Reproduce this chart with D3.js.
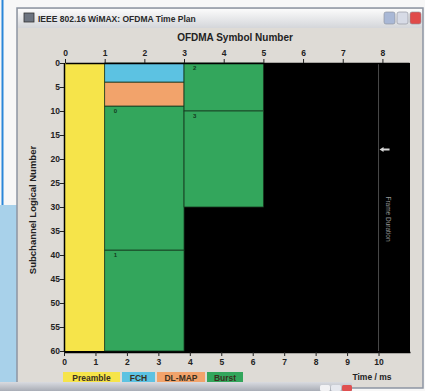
<!DOCTYPE html>
<html>
<head>
<meta charset="utf-8">
<script src="https://d3js.org/d3.v7.min.js"></script>
<style>
  body { margin: 0; background: #fafafa; }
  svg text { font-family: "Liberation Sans", Arial, sans-serif; }
</style>
</head>
<body>
<script>
"use strict";

// OFDMA time plan data (symbols on top axis, subchannels on y axis)
var blockNames = ["Preamble", "FCH", "DL-MAP", "0", "1", "2", "3"];
var blockTypes = ["Preamble", "FCH", "DL-MAP", "Burst", "Burst", "Burst", "Burst"];
var symStart = [0, 1, 1, 1, 1, 3, 3];
var symEnd   = [1, 3, 3, 3, 3, 5, 5];
var subStart = [0, 0, 4, 9, 39, 0, 10];
var subEnd   = [60, 4, 9, 39, 60, 10, 30];

var legendNames = ["Preamble", "FCH", "DL-MAP", "Burst"];
var legendColors = ["#f6e44a", "#5cc2e2", "#f2a36b", "#33a65c"];

var symbolTicks = [0, 1, 2, 3, 4, 5, 6, 7, 8];
var timeTicks = [0, 1, 2, 3, 4, 5, 6, 7, 8, 9, 10];
var subTicks = [0, 5, 10, 15, 20, 25, 30, 35, 40, 45, 50, 55, 60];
var frameDuration = 10; // ms

var W = 425, H = 391;
var svg = d3.select("body").append("svg").attr("width", W).attr("height", H);

// desktop behind the window
svg.append("rect").attr("x", 0).attr("y", 0).attr("width", W).attr("height", H).attr("fill", "#f7f7f7");
svg.append("rect").attr("x", 0).attr("y", 205).attr("width", 20).attr("height", 180).attr("fill", "#a8d1ea");
svg.append("line").attr("x1", 2.5).attr("x2", 2.5).attr("y1", 0).attr("y2", 205)
    .attr("stroke", "#2a86d8").attr("stroke-width", 2);

// window frame
var defs = svg.append("defs");
var tg = defs.append("linearGradient").attr("id", "tbar").attr("x1", 0).attr("x2", 0).attr("y1", 0).attr("y2", 1);
tg.append("stop").attr("offset", "0").attr("stop-color", "#fbfbfb");
tg.append("stop").attr("offset", "1").attr("stop-color", "#d4d6da");
var bg = defs.append("linearGradient").attr("id", "bbar").attr("x1", 0).attr("x2", 0).attr("y1", 0).attr("y2", 1);
bg.append("stop").attr("offset", "0").attr("stop-color", "#d9dbe0");
bg.append("stop").attr("offset", "1").attr("stop-color", "#a9adb6");

svg.append("rect").attr("x", 17).attr("y", 8).attr("width", 406).attr("height", 380)
    .attr("fill", "#dedbd6").attr("stroke", "#8d95a3").attr("stroke-width", 1.5);
svg.append("rect").attr("x", 18).attr("y", 9).attr("width", 404).attr("height", 19).attr("fill", "url(#tbar)");
svg.append("rect").attr("x", 24).attr("y", 13).attr("width", 10).attr("height", 9)
    .attr("fill", "#6d7480").attr("stroke", "#333").attr("stroke-width", 0.8);
svg.append("text").attr("x", 38).attr("y", 21.5).attr("font-size", 8.5).attr("font-weight", "bold")
    .attr("fill", "#2a2a2a").text("IEEE 802.16 WiMAX: OFDMA Time Plan");
[["#a9b8d6", 384], ["#d7dbe6", 397], ["#e04a4a", 410]].forEach(function(b) {
  svg.append("rect").attr("x", b[1]).attr("y", 12).attr("width", 11).attr("height", 12).attr("rx", 2)
      .attr("fill", b[0]).attr("stroke", "#8a8f99").attr("stroke-width", 0.6);
});

// scales
var y = d3.scaleLinear().domain([0, 60]).range([63, 351]);
var xs = d3.scaleLinear().domain([0, 8.67]).range([65, 409]);
var xt = d3.scaleLinear().domain([0, 11]).range([64, 410]);

// plot background
svg.append("rect").attr("x", xt(0)).attr("y", y(0)).attr("width", xt(11) - xt(0)).attr("height", y(60) - y(0) + 1)
    .attr("fill", "#000");

var color = d3.scaleOrdinal().domain(legendNames).range(legendColors);

blockNames.forEach(function(name, i) {
  svg.append("rect")
      .attr("x", xs(symStart[i]))
      .attr("y", y(subStart[i]))
      .attr("width", xs(symEnd[i]) - xs(symStart[i]))
      .attr("height", y(subEnd[i]) - y(subStart[i]))
      .attr("fill", color(blockTypes[i]))
      .attr("stroke", blockTypes[i] === "Preamble" ? "none" : "#17381f")
      .attr("stroke-width", 0.8);
  if (blockTypes[i] === "Burst") {
    svg.append("text").attr("x", xs(symStart[i]) + 9).attr("y", y(subStart[i]) + 7)
        .attr("font-size", 6).attr("font-weight", "bold").attr("fill", "#143a20").text(name);
  }
});

// frame duration marker
svg.append("line").attr("x1", xt(frameDuration)).attr("x2", xt(frameDuration))
    .attr("y1", y(0)).attr("y2", y(60)).attr("stroke", "#4a4a4a").attr("stroke-width", 1);
svg.append("path")
    .attr("d", "M" + (xt(frameDuration) + 1) + "," + y(18) + " l4,-2.5 v1.5 h6 v2 h-6 v1.5 z")
    .attr("fill", "#d8d8d8");
svg.append("text")
    .attr("transform", "translate(" + (xt(frameDuration) + 7) + "," + y(32.5) + ") rotate(90)")
    .attr("text-anchor", "middle").attr("font-size", 6.5).attr("fill", "#9a9a9a").text("Frame Duration");

// axes
var yAxis = d3.axisLeft(y).tickValues(subTicks).tickSize(4).tickSizeOuter(0);
var gy = svg.append("g").attr("transform", "translate(" + xt(0) + ",0)").call(yAxis);
var topAxis = d3.axisTop(xs).tickValues(symbolTicks).tickSize(4).tickSizeOuter(0);
var gt = svg.append("g").attr("transform", "translate(0," + y(0) + ")").call(topAxis);
var botAxis = d3.axisBottom(xt).tickValues(timeTicks).tickSize(4).tickSizeOuter(0);
var gb = svg.append("g").attr("transform", "translate(0," + (y(60) + 1) + ")").call(botAxis);

[gy, gt, gb].forEach(function(g) {
  g.select(".domain").attr("stroke", "#000").attr("stroke-width", 1.5);
  g.selectAll(".tick line").attr("stroke", "#222");
  g.selectAll("text").attr("font-size", 8.5).attr("font-weight", "bold").attr("fill", "#222");
});
gy.selectAll("text").attr("x", -4);

svg.append("text").attr("x", 235).attr("y", 41).attr("text-anchor", "middle")
    .attr("font-size", 10).attr("font-weight", "bold").attr("fill", "#222").text("OFDMA Symbol Number");
svg.append("text").attr("transform", "translate(36,210) rotate(-90)").attr("text-anchor", "middle")
    .attr("font-size", 9.5).attr("font-weight", "bold").attr("fill", "#222").text("Subchannel Logical Number");
svg.append("text").attr("x", 372).attr("y", 380).attr("text-anchor", "middle")
    .attr("font-size", 8.5).attr("font-weight", "bold").attr("fill", "#222").text("Time / ms");

// legend
var lx = 63;
var legendWidths = [59, 35, 50, 38];
legendNames.forEach(function(n, i) {
  svg.append("rect").attr("x", lx).attr("y", 372).attr("width", legendWidths[i] - 2).attr("height", 12)
      .attr("fill", legendColors[i]);
  svg.append("text").attr("x", lx + (legendWidths[i] - 2) / 2).attr("y", 381).attr("text-anchor", "middle")
      .attr("font-size", 8.5).attr("font-weight", "bold").attr("fill", "#3a3020").text(n);
  lx += legendWidths[i];
});

// window underneath, its title bar showing at bottom
svg.append("rect").attr("x", 0).attr("y", 382).attr("width", 352).attr("height", 9).attr("fill", "url(#bbar)");
[["#f2f2f4", 320], ["#e6e8ee", 331], ["#e05050", 342]].forEach(function(b) {
  svg.append("rect").attr("x", b[1]).attr("y", 385).attr("width", 10).attr("height", 6).attr("rx", 1.5)
      .attr("fill", b[0]);
});
</script>
</body>
</html>
